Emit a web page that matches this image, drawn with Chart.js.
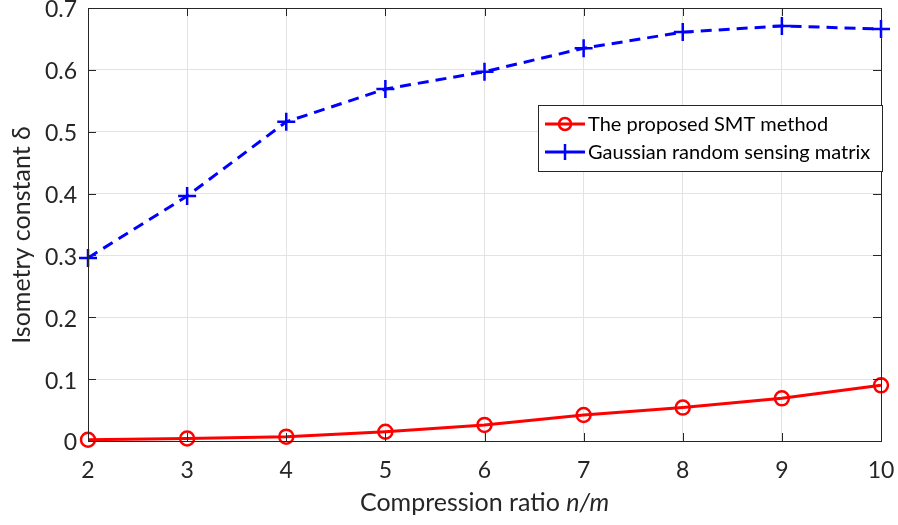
<!DOCTYPE html>
<html>
<head>
<meta charset="utf-8">
<script src="https://cdn.jsdelivr.net/npm/chart.js@4/dist/chart.umd.min.js"></script>
<style>
  html, body { margin: 0; padding: 0; background: #fff; }
  #wrap { width: 898px; height: 525px; }
</style>
</head>
<body>
<div id="wrap"><canvas id="c" width="898" height="525"></canvas></div>
<script>
// data
const ratios = [2, 3, 4, 5, 6, 7, 8, 9, 10];
const smtValues = [0.002, 0.004, 0.007, 0.015, 0.026, 0.042, 0.054, 0.069, 0.090];
const gaussValues = [0.296, 0.396, 0.516, 0.569, 0.597, 0.635, 0.661, 0.671, 0.666];
const yTicks = [0, 0.1, 0.2, 0.3, 0.4, 0.5, 0.6, 0.7];
const legendLabels = ['The proposed SMT method', 'Gaussian random sensing matrix'];

const FONT = 'Lato, "Open Sans", sans-serif';
const TXT = '#262626';

// box round plot + inward ticks + y tick labels + axis titles (italic n/m)
const boxPlugin = {
    id: 'box',
    afterDraw(chart) {
        const { ctx, chartArea: a, scales } = chart;
        ctx.save();
        ctx.strokeStyle = '#262626';
        ctx.lineWidth = 1;
        ctx.beginPath();
        ratios.forEach(v => {
            const x = Math.round(scales.x.getPixelForValue(v)) + 0.5;
            ctx.moveTo(x, a.bottom); ctx.lineTo(x, a.bottom - 8);
            ctx.moveTo(x, a.top); ctx.lineTo(x, a.top + 8);
        });
        yTicks.forEach(v => {
            const y = Math.round(scales.y.getPixelForValue(v)) + 0.5;
            ctx.moveTo(a.left, y); ctx.lineTo(a.left + 8, y);
            ctx.moveTo(a.right, y); ctx.lineTo(a.right - 8, y);
        });
        ctx.stroke();
        ctx.strokeRect(Math.round(a.left) + 0.5, Math.round(a.top) + 0.5,
            Math.round(a.right - a.left), Math.round(a.bottom - a.top));

        ctx.fillStyle = TXT;
        ctx.textBaseline = 'middle';

        // y tick labels, a bit lower than chart.js puts them
        ctx.font = '23px ' + FONT;
        ctx.textAlign = 'right';
        yTicks.forEach(v => {
            const y = scales.y.getPixelForValue(v);
            ctx.fillText(v === 0 ? '0' : v.toFixed(1), a.left - 11, y + 2);
        });

        // x title
        const t1 = 'Compression ratio ', t2 = 'n/m';
        ctx.font = '25px ' + FONT;
        const w1 = ctx.measureText(t1).width;
        ctx.font = 'italic 25px ' + FONT;
        const w2 = ctx.measureText(t2).width;
        let x = (a.left + a.right) / 2 - (w1 + w2) / 2;
        ctx.font = '25px ' + FONT;
        ctx.textAlign = 'left';
        ctx.fillText(t1, x, 503);
        ctx.font = 'italic 25px ' + FONT;
        ctx.fillText(t2, x + w1, 503);

        // y title
        ctx.translate(22, 235);
        ctx.rotate(-Math.PI / 2);
        ctx.textAlign = 'center';
        ctx.font = '25px ' + FONT;
        ctx.fillText('Isometry constant δ', 0, 0);
        ctx.restore();
    }
};

// legend box inside the plot
const legendPlugin = {
    id: 'boxLegend',
    afterDraw(chart) {
        const { ctx } = chart;
        const x0 = 538, y0 = 105, w = 344, h = 66;
        ctx.save();
        ctx.fillStyle = '#fff';
        ctx.fillRect(x0, y0, w, h);
        ctx.strokeStyle = '#262626';
        ctx.lineWidth = 1;
        ctx.strokeRect(x0 + 0.5, y0 + 0.5, w, h);
        ctx.font = '20px ' + FONT;
        ctx.fillStyle = '#000';
        ctx.textBaseline = 'middle';
        const rows = [y0 + 19, y0 + 47];
        chart.data.datasets.forEach((ds, i) => {
            const y = rows[i];
            ctx.strokeStyle = ds.borderColor;
            ctx.lineWidth = 3;
            ctx.setLineDash([]);
            ctx.beginPath(); ctx.moveTo(x0 + 7, y); ctx.lineTo(x0 + 47, y); ctx.stroke();
            const cx = x0 + 27;
            ctx.lineWidth = 2.5;
            ctx.beginPath();
            if (i === 0) {
                ctx.arc(cx, y, 6, 0, Math.PI * 2);
            } else {
                ctx.moveTo(cx, y - 8); ctx.lineTo(cx, y + 8);
            }
            ctx.stroke();
            ctx.fillText(legendLabels[i], x0 + 50, y + 1);
        });
        ctx.restore();
    }
};

new Chart(document.getElementById('c'), {
    type: 'line',
    data: {
        datasets: [{
            label: legendLabels[0],
            data: ratios.map((r, i) => ({ x: r, y: smtValues[i] })),
            borderColor: 'rgb(255,0,0)',
            backgroundColor: 'rgba(0,0,0,0)',
            borderWidth: 3,
            pointStyle: 'circle',
            pointRadius: 7,
            pointBorderWidth: 2.5,
            tension: 0,
            clip: false
        }, {
            label: legendLabels[1],
            data: ratios.map((r, i) => ({ x: r, y: gaussValues[i] })),
            borderColor: 'rgb(0,0,255)',
            backgroundColor: 'rgba(0,0,0,0)',
            borderWidth: 3,
            borderDash: [11, 7],
            pointStyle: 'cross',
            pointRadius: 9,
            pointBorderWidth: 2.5,
            tension: 0,
            clip: false
        }]
    },
    options: {
        responsive: false,
        animation: false,
        layout: { autoPadding: false, padding: { top: 8, right: 17, left: 0, bottom: 0 } },
        plugins: { legend: { display: false }, tooltip: { enabled: false } },
        scales: {
            x: {
                type: 'linear',
                min: 2, max: 10,
                afterBuildTicks: s => { s.ticks = ratios.map(v => ({ value: v })); },
                afterFit: s => { s.height = 84; s.paddingLeft = 0; s.paddingRight = 0; },
                grid: { color: '#e3e3e3', tickLength: 0, drawTicks: false },
                border: { display: false },
                ticks: { color: TXT, font: { family: FONT, size: 23 }, padding: 16, maxRotation: 0 }
            },
            y: {
                min: 0, max: 0.7,
                afterBuildTicks: s => { s.ticks = yTicks.map(v => ({ value: v })); },
                afterFit: s => { s.width = 88; s.paddingTop = 0; s.paddingBottom = 0; },
                grid: { color: '#e3e3e3', tickLength: 0, drawTicks: false },
                border: { display: false },
                ticks: { display: false }
            }
        }
    },
    plugins: [boxPlugin, legendPlugin]
});
</script>
</body>
</html>
